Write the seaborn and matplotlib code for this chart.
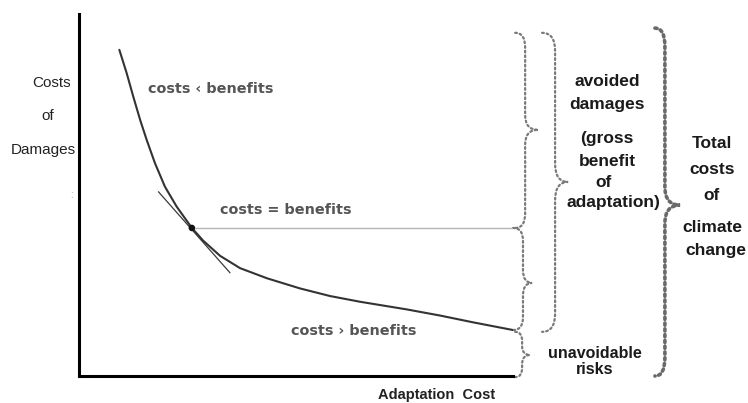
import numpy as np
import pandas as pd
import matplotlib
matplotlib.use("Agg")
import matplotlib.pyplot as plt
from matplotlib.path import Path
from matplotlib.patches import PathPatch
import matplotlib.transforms as mtransforms
import seaborn as sns

# ---- data (axes scaled 0..100) ----
curve_x = [9.3, 11.0, 12.5, 14.1, 15.6, 17.5, 19.8, 22.5, 26.0, 28.6, 32.5, 37.1, 43.3,
           50.9, 57.8, 64.8, 75.5, 83.2, 90.9, 100.0]
curve_y = [90.1, 83.6, 77.2, 70.7, 65.2, 58.8, 52.3, 46.8, 40.9, 37.4, 33.2, 29.8, 27.0,
           24.2, 22.1, 20.5, 18.4, 16.7, 14.8, 12.7]
tangent_x = [18.3, 34.8]
tangent_y = [50.9, 28.5]
optimum_x = [26.0]
optimum_y = [40.9]
level_x = [26.0, 100.0]
level_y = [40.9, 40.9]

region_labels = ["costs \u2039 benefits", "costs = benefits", "costs \u203a benefits"]
ylabel_lines = ["Costs", "of", "Damages"]
xlabel_text = "Adaptation  Cost"
avoided_lines = ["avoided", "damages", "(gross", "benefit", "of", "adaptation)"]
total_lines = ["Total", "costs", "of", "climate", "change"]
unavoid_lines = ["unavoidable", "risks"]

W, H = 748, 403
fig = plt.figure(figsize=(W / 100, H / 100), dpi=100)
sns.set_style("white")
plt.rcParams['font.family'] = ['Liberation Sans', 'DejaVu Sans']

L, R, T, B = 79, 513, 14, 376
ax = fig.add_axes([L / W, 1 - B / H, (R - L) / W, (B - T) / H])
ax.set_xlim(0, 100)
ax.set_ylim(0, 100)
ax.set_xticks([])
ax.set_yticks([])
for s in ["top", "right"]:
    ax.spines[s].set_visible(False)
for s in ["left", "bottom"]:
    ax.spines[s].set_color("black")
    ax.spines[s].set_linewidth(2.2)

# horizontal level line
sns.lineplot(x=level_x, y=level_y, ax=ax, color="#b5b5b5", lw=1.0, sort=False, estimator=None)
# tangent
sns.lineplot(x=tangent_x, y=tangent_y, ax=ax, color="#3a3a3a", lw=0.9, sort=False, estimator=None)
# damage curve
sns.lineplot(x=curve_x, y=curve_y, ax=ax, color="#333333", lw=1.5, sort=False, estimator=None)
sns.scatterplot(x=optimum_x, y=optimum_y, ax=ax, color="#111111", s=22, edgecolor="none", zorder=5)

# ---- braces (x in axes fraction, y in data) ----
trans = mtransforms.blended_transform_factory(ax.transAxes, ax.transData)

def brace(x0, xv, xt, yt, ym, yb, r, lw, dash, color):
    verts = [(x0, yt), (xv, yt), (xv, yt - r),
             (xv, ym + r), (xv, ym), (xt, ym),
             (xv, ym), (xv, ym - r),
             (xv, yb + r), (xv, yb), (x0, yb)]
    codes = [Path.MOVETO, Path.CURVE3, Path.CURVE3,
             Path.LINETO, Path.CURVE3, Path.CURVE3,
             Path.CURVE3, Path.CURVE3,
             Path.LINETO, Path.CURVE3, Path.CURVE3]
    p = PathPatch(Path(verts, codes), transform=trans, fill=False, lw=lw,
                  linestyle=dash, edgecolor=color, clip_on=False, capstyle="round")
    ax.add_patch(p)

dots = (0, (0.8, 1.3))
brace(1.005, 1.028, 1.058, 94.8, 68.0, 40.9, 4.0, 1.6, dots, "#7a7a7a")
brace(1.000, 1.023, 1.044, 40.9, 25.7, 12.7, 3.5, 1.6, dots, "#7a7a7a")
brace(1.005, 1.021, 1.039, 12.2, 5.8, -0.3, 2.5, 1.6, dots, "#7a7a7a")
brace(1.067, 1.097, 1.127, 94.8, 53.6, 12.2, 5.0, 1.6, dots, "#7a7a7a")
brace(1.327, 1.350, 1.385, 96.1, 47.2, 0.0, 5.0, 2.6, (0, (0.6, 1.0)), "#6a6a6a")

# ---- text ----
def ftext(px, py, s, **kw):
    fig.text(px / W, 1 - py / H, s, **kw)

gray = "#555555"
for s, (px, py) in zip(region_labels, [(148, 89), (220, 210), (291, 331)]):
    ftext(px, py, s, ha="left", va="center", fontsize=10.4, fontweight="bold",
          color=gray, family=["DejaVu Sans"])

for s, (px, py) in zip(ylabel_lines, [(52, 83), (48, 116), (43, 150)]):
    ftext(px, py, s, ha="center", va="center", fontsize=11, color="#222222")
ftext(71, 195, ":", ha="center", va="center", fontsize=7, color="#999999")

ftext(437, 395, xlabel_text, ha="center", va="center", fontsize=10.5, fontweight="bold",
      color="#222222")

for s, (px, py) in zip(avoided_lines, [(607, 82), (607, 105), (607, 138), (607, 161),
                                       (604, 183), (613, 203)]):
    ftext(px, py, s, ha="center", va="center", fontsize=12.5, fontweight="bold", color="#1a1a1a")

for s, (px, py) in zip(total_lines, [(712, 143), (712, 169), (712, 195), (712, 227), (716, 250)]):
    ftext(px, py, s, ha="center", va="center", fontsize=12.5, fontweight="bold", color="#1a1a1a")

for s, (px, py) in zip(unavoid_lines, [(595, 353), (595, 370)]):
    ftext(px, py, s, ha="center", va="center", fontsize=11.5, fontweight="bold", color="#1a1a1a")

fig.savefig("out.png", dpi=100, facecolor="white")
